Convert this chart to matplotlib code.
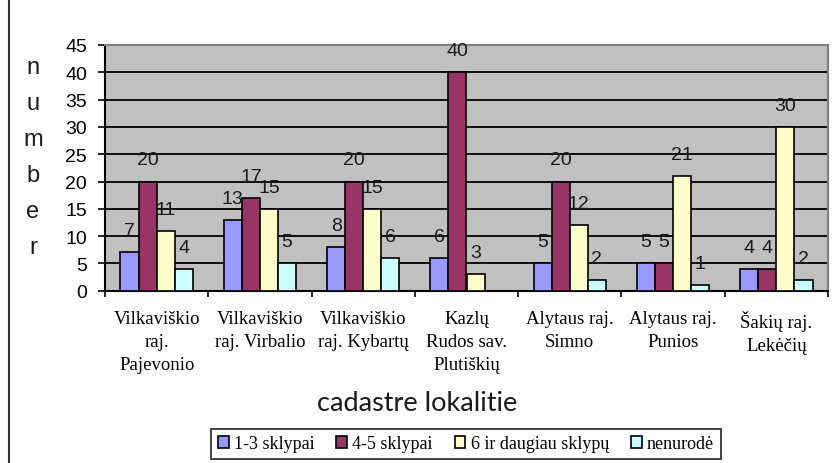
import numpy as np
import matplotlib
matplotlib.use("Agg")
import matplotlib.pyplot as plt
from matplotlib.patches import Rectangle, Patch

categories = ["Vilkaviškio\nraj.\nPajevonio", "Vilkaviškio\nraj. Virbalio",
              "Vilkaviškio\nraj. Kybartų", "Kazlų\nRudos sav.\nPlutiškių",
              "Alytaus raj.\nSimno", "Alytaus raj.\nPunios", "Šakių raj.\nLekėčių"]
series_names = ["1-3 sklypai", "4-5 sklypai", "6 ir daugiau sklypų", "nenurodė"]
s_1_3 = [7, 13, 8, 6, 5, 5, 4]
s_4_5 = [20, 17, 20, 40, 20, 5, 4]
s_6plus = [11, 15, 15, 3, 12, 21, 30]
s_nenurode = [4, 5, 6, np.nan, 2, 1, 2]
y_ticks = [0, 5, 10, 15, 20, 25, 30, 35, 40, 45]
x_title = "cadastre lokalitie"
y_title = "number"

colors = ["#9999FF", "#993366", "#FFFFCC", "#CCFFFF"]
W, H = 833, 464
fig = plt.figure(figsize=(W / 100, H / 100), dpi=100)
ax = fig.add_axes([105 / W, 1 - 291.7 / H, (828 - 105) / W, (291.7 - 46) / H])
ax.set_facecolor("#C0C0C0")

x = np.arange(len(categories))
bw = 0.175
all_series = [s_1_3, s_4_5, s_6plus, s_nenurode]
for i, (vals, c) in enumerate(zip(all_series, colors)):
    vals = np.array(vals, dtype=float)
    xs = x + (i - 1.5) * bw
    mask = ~np.isnan(vals)
    ax.bar(xs[mask], vals[mask], width=bw, color=c, edgecolor="black",
           linewidth=1.2, zorder=3)
    for xi, v in zip(xs[mask], vals[mask]):
        ax.annotate(f"{int(v)}", (xi, v), xytext=(0, 15.5), textcoords="offset points",
                    ha="center", va="center", fontsize=14, family="Liberation Sans",
                    color="#1a1a1a", zorder=4)

ax.set_ylim(0, 45)
ax.set_xlim(-0.5, len(categories) - 0.5)
ax.set_yticks(y_ticks)
ax.set_yticklabels([str(t) for t in y_ticks], fontsize=14, family="Liberation Sans")
ax.tick_params(axis="y", length=5, width=1.2, pad=8, color="black")
ax.set_axisbelow(True)
ax.yaxis.grid(True, color="black", linewidth=1.3)

ax.set_xticks(x)
ax.set_xticklabels(categories, fontsize=13.5, family="Liberation Serif", linespacing=1.45)
ax.tick_params(axis="x", which="major", length=0, pad=14)
ax.set_xticks(np.arange(-0.5, len(categories)), minor=True)
ax.tick_params(axis="x", which="minor", length=4, width=1.2, color="black")

for s in ["top", "right"]:
    ax.spines[s].set_color("#808080")
    ax.spines[s].set_linewidth(1.5)
for s in ["left", "bottom"]:
    ax.spines[s].set_color("black")
    ax.spines[s].set_linewidth(1.5)

fig.text(417 / W, 1 - 404 / H, x_title, ha="center", va="center",
         fontsize=19.5, family="Lato", color="#1a1a1a")
fig.text(33 / W, 1 - 158 / H, "\n".join(y_title), ha="center", va="center",
         fontsize=17, family="Liberation Sans", color="#1a1a1a", linespacing=1.82)

handles = [Patch(facecolor=c, edgecolor="black", linewidth=1.2) for c in colors]
leg = fig.legend(handles, series_names, loc="center",
                 bbox_to_anchor=(466 / W, 1 - 445 / H),
                 ncol=4, frameon=True, fancybox=False,
                 prop={"family": "Liberation Serif", "size": 13},
                 handlelength=0.6, handleheight=0.6, handletextpad=0.3,
                 borderaxespad=0, borderpad=0.35, columnspacing=1.2)
leg.get_frame().set_edgecolor("black")
leg.get_frame().set_linewidth(1.3)

fig.patches.append(Rectangle((9 / W, -0.2), 1.2, 1.2 + (1 - 13 / H), transform=fig.transFigure,
                             fill=False, edgecolor="#333333", linewidth=1.5))

fig.savefig("out.png", dpi=100, facecolor="white")
